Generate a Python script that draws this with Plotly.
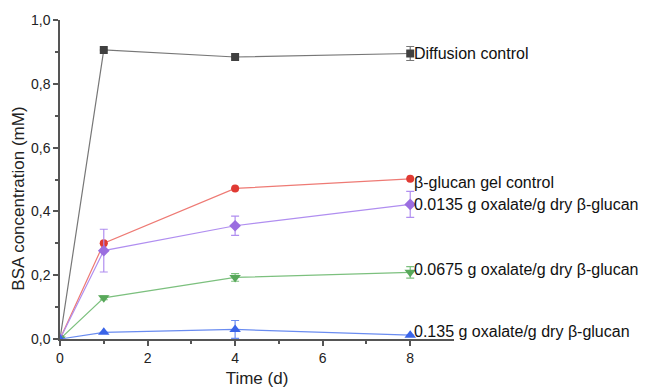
import plotly.graph_objects as go

time_days = [0, 1, 4, 8]

diffusion = [0.0, 0.906, 0.884, 0.895]
diffusion_err = [0, 0, 0, 0.022]

gel_control = [0.0, 0.300, 0.472, 0.502]
gel_err = [0, 0, 0, 0]

ox_00135 = [0.0, 0.277, 0.355, 0.422]
ox_00135_err = [0, 0.067, 0.030, 0.041]

ox_00675 = [0.0, 0.129, 0.193, 0.209]
ox_00675_err = [0, 0.006, 0.012, 0.018]

ox_0135 = [0.0, 0.021, 0.030, 0.012]
ox_0135_err = [0, 0, 0.028, 0]

series = [
    ("Diffusion control", diffusion, diffusion_err, "#404040", "#777777", "square", 8, 0),
    ("β-glucan gel control", gel_control, gel_err, "#e03a33", "#ee7a74", "circle", 8, -4),
    ("0.0135 g oxalate/g dry β-glucan", ox_00135, ox_00135_err, "#9b6ee0", "#b08ef0", "diamond", 9, 0),
    ("0.0675 g oxalate/g dry β-glucan", ox_00675, ox_00675_err, "#58a85a", "#7cc07e", "triangle-down", 10, 3),
    ("0.135 g oxalate/g dry β-glucan", ox_0135, ox_0135_err, "#3a64e8", "#6a8cf0", "triangle-up", 10, 4),
]

FONT = "Liberation Sans, Arial, Helvetica"

fig = go.Figure()
annotations = []
for name, ys, errs, mcol, lcol, sym, msize, yshift in series:
    fig.add_trace(go.Scatter(
        x=time_days, y=ys, mode="lines+markers", name=name,
        line=dict(color=lcol, width=1.2),
        marker=dict(color=mcol, symbol=sym, size=msize, line=dict(width=0)),
        error_y=dict(type="data", array=errs, visible=True, color=lcol,
                     thickness=1.2, width=4),
        showlegend=False,
    ))
    annotations.append(dict(
        x=time_days[-1], y=ys[-1], xref="x", yref="y", text=name,
        showarrow=False, xanchor="left", yanchor="middle", xshift=2, yshift=yshift,
        font=dict(family=FONT, size=16, color="#111111"),
    ))

annotations.append(dict(
    x=-0.104, y=0.44, xref="paper", yref="paper", text="BSA concentration (mM)",
    showarrow=False, textangle=-90, xanchor="center", yanchor="middle",
    font=dict(family=FONT, size=17, color="#222222"),
))

# The page body has an 8px default margin, so the figure is offset by 8px.
fig.update_layout(
    width=642, height=380,
    margin=dict(l=52, r=196, t=12, b=49),
    plot_bgcolor="white", paper_bgcolor="white",
    separators=",.",
    annotations=annotations,
    font=dict(family=FONT, size=14, color="#222222"),
)
fig.update_xaxes(
    range=[0, 9], tickvals=[0, 2, 4, 6, 8], showgrid=False, zeroline=False,
    showline=True, linecolor="#555555", linewidth=1.5, automargin=False,
    ticks="outside", ticklen=5, tickcolor="#555555", tickwidth=1.5,
    minor=dict(tickvals=[1, 3, 5, 7], ticks="outside", ticklen=3, tickcolor="#555555", tickwidth=1.5),
    title=dict(text="Time (d)", font=dict(size=17), standoff=9),
    tickfont=dict(size=14),
)
fig.update_yaxes(
    range=[0, 1.0], tickvals=[0, 0.2, 0.4, 0.6, 0.8, 1.0], tickformat=".1f",
    showgrid=False, zeroline=False, automargin=False,
    showline=True, linecolor="#555555", linewidth=1.5,
    ticks="outside", ticklen=5, tickcolor="#555555", tickwidth=1.5,
    minor=dict(tickvals=[0.1, 0.3, 0.5, 0.7, 0.9], ticks="outside", ticklen=3, tickcolor="#555555", tickwidth=1.5),
    tickfont=dict(size=14),
)

fig.write_html("out.html")
